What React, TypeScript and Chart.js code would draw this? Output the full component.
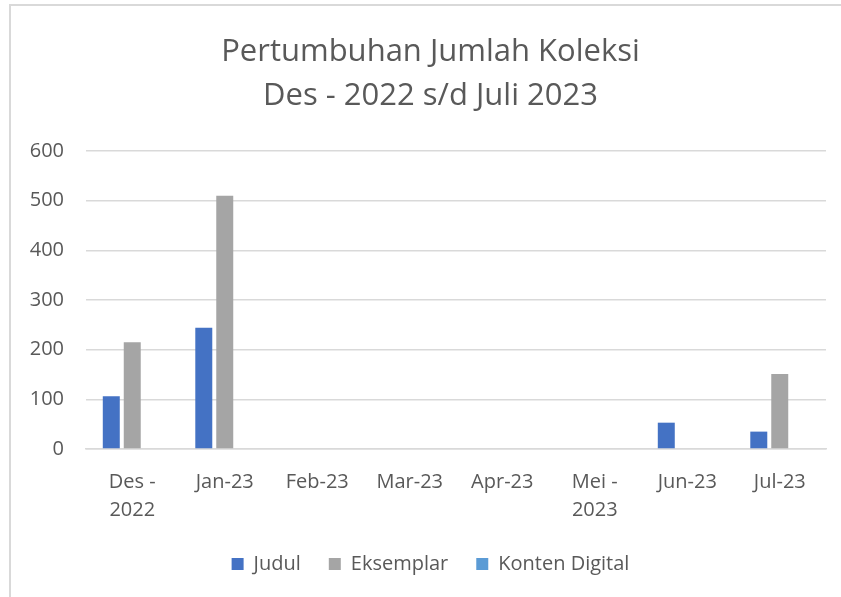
import React, { useEffect, useRef } from "react";
import { Chart, registerables } from "chart.js";

Chart.register(...registerables);

const categories: (string | string[])[] = [
  ["Des -", "2022"],
  "Jan-23",
  "Feb-23",
  "Mar-23",
  "Apr-23",
  ["Mei -", "2023"],
  "Jun-23",
  "Jul-23",
];
const judul = [106, 244, 0, 0, 0, 0, 53, 35];
const eksemplar = [215, 510, 0, 0, 0, 0, 0, 151];
const kontenDigital = [0, 0, 0, 0, 0, 0, 0, 0];
const titleLines = ["Pertumbuhan Jumlah Koleksi", "Des - 2022 s/d Juli 2023"];

const FONT = "'Open Sans', 'Noto Sans', sans-serif";
const TEXT = "#595959";
const GRID = "#d9d9d9";

export default function App() {
  const ref = useRef<HTMLCanvasElement | null>(null);

  useEffect(() => {
    if (!ref.current) return;
    const chart = new Chart(ref.current, {
      type: "bar",
      data: {
        labels: categories,
        datasets: [
          { label: "Judul", data: judul, backgroundColor: "#4472C4", yAxisID: "y" },
          { label: "Eksemplar", data: eksemplar, backgroundColor: "#A5A5A5", yAxisID: "y" },
          { label: "Konten Digital", data: kontenDigital, backgroundColor: "#5B9BD5", yAxisID: "y" },
        ],
      },
      options: {
        responsive: false,
        animation: false,
        devicePixelRatio: 1,
        datasets: { bar: { categoryPercentage: 0.68, barPercentage: 0.81 } },
        layout: { padding: { left: 20, right: 0, top: 30, bottom: 13 } },
        plugins: {
          tooltip: { enabled: false },
          title: {
            display: true,
            text: titleLines,
            color: TEXT,
            font: { family: FONT, size: 31, weight: "normal", lineHeight: 1.42 },
            padding: { top: 0, bottom: 33 },
          },
          legend: {
            position: "bottom",
            labels: {
              boxWidth: 12,
              boxHeight: 12,
              padding: 28,
              color: TEXT,
              font: { family: FONT, size: 20 },
            },
          },
        },
        scales: {
          x: {
            grid: { display: false, drawTicks: false },
            border: { display: true, color: GRID, width: 1.5 },
            ticks: {
              color: TEXT,
              padding: 19,
              maxRotation: 0,
              autoSkip: false,
              font: { family: FONT, size: 20, lineHeight: 1.4 },
            },
            afterFit: (scale: any) => {
              scale.height = 77;
            },
          },
          y: {
            min: 0,
            max: 600,
            grid: { color: GRID, lineWidth: 1.5, drawTicks: false },
            border: { display: false },
            ticks: {
              stepSize: 100,
              color: TEXT,
              padding: 22,
              font: { family: FONT, size: 20 },
            },
            afterFit: (scale: any) => {
              scale.width = 66;
            },
          },
          y2: {
            position: "right",
            display: true,
            grid: { display: false, drawOnChartArea: false, drawTicks: false },
            border: { display: false },
            ticks: { display: false },
            afterFit: (scale: any) => {
              scale.width = 15;
            },
          },
        },
      },
    });
    return () => chart.destroy();
  }, []);

  return (
    <div
      style={{
        position: "fixed",
        left: 0,
        top: 0,
        width: 841,
        height: 597,
        background: "#fff",
        overflow: "hidden",
      }}
    >
      <div
        style={{
          position: "absolute",
          left: 9,
          top: 4,
          width: 900,
          height: 700,
          borderLeft: `2px solid ${GRID}`,
          borderTop: `2px solid ${GRID}`,
        }}
      />
      <canvas
        ref={ref}
        width={841}
        height={597}
        style={{ position: "absolute", left: 0, top: 0, width: 841, height: 597 }}
      />
    </div>
  );
}
